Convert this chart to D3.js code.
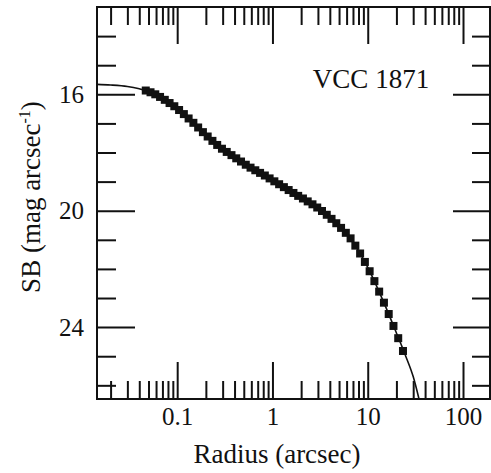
<!DOCTYPE html>
<html>
<head>
<meta charset="utf-8">
<script src="https://cdn.jsdelivr.net/npm/d3@7"></script>
<style>
  body { margin: 0; background: #fff; }
  text { font-family: "Liberation Serif", "Times New Roman", serif; fill: #111; }
</style>
</head>
<body>
<div id="chart"></div>
<script>
// isophote points (radius in arcsec, surface brightness in mag/arcsec^2)
var radius = [0.0468, 0.0525, 0.0589, 0.0661, 0.0741, 0.0832, 0.0933, 0.1047, 0.1175, 0.1318,
  0.1479, 0.166, 0.1862, 0.2089, 0.2344, 0.263, 0.2951, 0.3311, 0.3715, 0.4169,
  0.4677, 0.5248, 0.5888, 0.6607, 0.7413, 0.8318, 0.9333, 1.047, 1.175, 1.318,
  1.479, 1.66, 1.862, 2.089, 2.344, 2.63, 2.951, 3.311, 3.715, 4.169,
  4.677, 5.248, 5.888, 6.607, 7.413, 8.318, 9.333, 10.47, 11.75, 13.18,
  14.79, 16.6, 18.62, 20.89, 23.44];
var sb = [15.87, 15.93, 16.00, 16.09, 16.19, 16.30, 16.41, 16.54, 16.68, 16.83,
  16.98, 17.14, 17.30, 17.45, 17.60, 17.74, 17.87, 17.98, 18.09, 18.20,
  18.31, 18.42, 18.52, 18.61, 18.70, 18.79, 18.89, 18.99, 19.09, 19.19,
  19.29, 19.39, 19.49, 19.58, 19.68, 19.78, 19.89, 20.01, 20.14, 20.28,
  20.43, 20.59, 20.76, 20.95, 21.20, 21.47, 21.76, 22.08, 22.42, 22.78,
  23.16, 23.55, 23.96, 24.38, 24.82];

// fitted model profile
var modelRadius = [0.0144, 0.02, 0.03, 0.04, 0.05, 0.07, 0.1, 0.15, 0.2, 0.3, 0.5, 0.7,
  1, 1.5, 2, 3, 5, 7, 10, 15, 20, 25, 30, 35];
var modelSb = [15.66, 15.68, 15.73, 15.81, 15.90, 16.14, 16.48, 17.01, 17.39, 17.90, 18.38, 18.66,
  18.94, 19.30, 19.55, 19.90, 20.52, 21.07, 21.95, 23.21, 24.20, 24.99, 25.70, 26.55];

// axes
var xMajor = [0.1, 1, 10, 100];
var xLabels = ["0.1", "1", "10", "100"];
var yMajor = [16, 20, 24];
var yLabels = ["16", "20", "24"];
var yMinor = [14, 15, 17, 18, 19, 21, 22, 23, 25, 26];

var margin = {top: 7, right: 1, bottom: 74, left: 97};
var width = 491 - margin.left - margin.right;
var height = 473 - margin.top - margin.bottom;

var x = d3.scaleLog().domain([0.0144, 192]).range([0, width]);
var y = d3.scaleLinear().domain([13, 26.47]).range([0, height]);

// minor log ticks 2..9 in each decade
var xMinor = [];
[0.01, 0.1, 1, 10, 100].forEach(function(d) {
  for (var k = 2; k <= 9; k++) {
    var v = d * k;
    if (v > x.domain()[0] && v < x.domain()[1]) xMinor.push(v);
  }
});

var svg = d3.select("#chart").append("svg")
    .attr("width", 491)
    .attr("height", 473)
  .append("g")
    .attr("transform", "translate(" + margin.left + "," + margin.top + ")");

svg.append("clipPath").attr("id", "clip")
  .append("rect").attr("width", width).attr("height", height);

function styleAxis(g) {
  g.attr("font-family", null);
  g.select(".domain").remove();
  g.selectAll(".tick line").attr("stroke", "#111").attr("stroke-width", 2);
}

// bottom + top ticks
svg.append("g").attr("transform", "translate(0," + height + ")")
    .call(d3.axisBottom(x).tickValues(xMinor).tickSize(-18).tickFormat(""))
    .call(styleAxis);
svg.append("g").attr("transform", "translate(0," + height + ")")
    .call(d3.axisBottom(x).tickValues(xMajor).tickSize(-37).tickPadding(8)
      .tickFormat(function(d, i) { return xLabels[i]; }))
    .call(styleAxis)
    .selectAll("text").attr("font-size", 25);
svg.append("g")
    .call(d3.axisTop(x).tickValues(xMinor).tickSize(-18).tickFormat(""))
    .call(styleAxis);
svg.append("g")
    .call(d3.axisTop(x).tickValues(xMajor).tickSize(-37).tickFormat(""))
    .call(styleAxis);

// left + right ticks
svg.append("g")
    .call(d3.axisLeft(y).tickValues(yMinor).tickSize(-19).tickFormat(""))
    .call(styleAxis);
svg.append("g")
    .call(d3.axisLeft(y).tickValues(yMajor).tickSize(-38).tickPadding(13)
      .tickFormat(function(d, i) { return yLabels[i]; }))
    .call(styleAxis)
    .selectAll("text").attr("font-size", 25);
svg.append("g").attr("transform", "translate(" + width + ",0)")
    .call(d3.axisRight(y).tickValues(yMinor).tickSize(-18).tickFormat(""))
    .call(styleAxis);
svg.append("g").attr("transform", "translate(" + width + ",0)")
    .call(d3.axisRight(y).tickValues(yMajor).tickSize(-37).tickFormat(""))
    .call(styleAxis);

// frame
svg.append("rect")
    .attr("width", width)
    .attr("height", height)
    .attr("fill", "none")
    .attr("stroke", "#111")
    .attr("stroke-width", 2);

// model line
var model = modelRadius.map(function(r, i) { return [r, modelSb[i]]; });
svg.append("path")
    .datum(model)
    .attr("clip-path", "url(#clip)")
    .attr("fill", "none")
    .attr("stroke", "#111")
    .attr("stroke-width", 1.6)
    .attr("d", d3.line()
      .curve(d3.curveMonotoneX)
      .x(function(d) { return x(d[0]); })
      .y(function(d) { return y(d[1]); }));

// data points
var s = 8;
svg.selectAll(".pt")
    .data(radius)
  .enter().append("rect")
    .attr("class", "pt")
    .attr("x", function(d) { return x(d) - s / 2; })
    .attr("y", function(d, i) { return y(sb[i]) - s / 2; })
    .attr("width", s)
    .attr("height", s)
    .attr("fill", "#111");

// labels
svg.append("text")
    .attr("x", 371 - margin.left)
    .attr("y", 88 - margin.top)
    .attr("text-anchor", "middle")
    .attr("font-size", 27)
    .text("VCC 1871");

svg.append("text")
    .attr("x", 277 - margin.left)
    .attr("y", 463 - margin.top)
    .attr("text-anchor", "middle")
    .attr("font-size", 27)
    .text("Radius (arcsec)");

var yTitle = svg.append("text")
    .attr("transform", "translate(" + (40 - margin.left) + "," + (197 - margin.top) + ") rotate(-90)")
    .attr("text-anchor", "middle")
    .attr("font-size", 27);
yTitle.append("tspan").text("SB (mag arcsec");
yTitle.append("tspan").attr("font-size", 16).attr("dy", -10).text("-1");
yTitle.append("tspan").attr("dy", 10).text(")");
</script>
</body>
</html>
